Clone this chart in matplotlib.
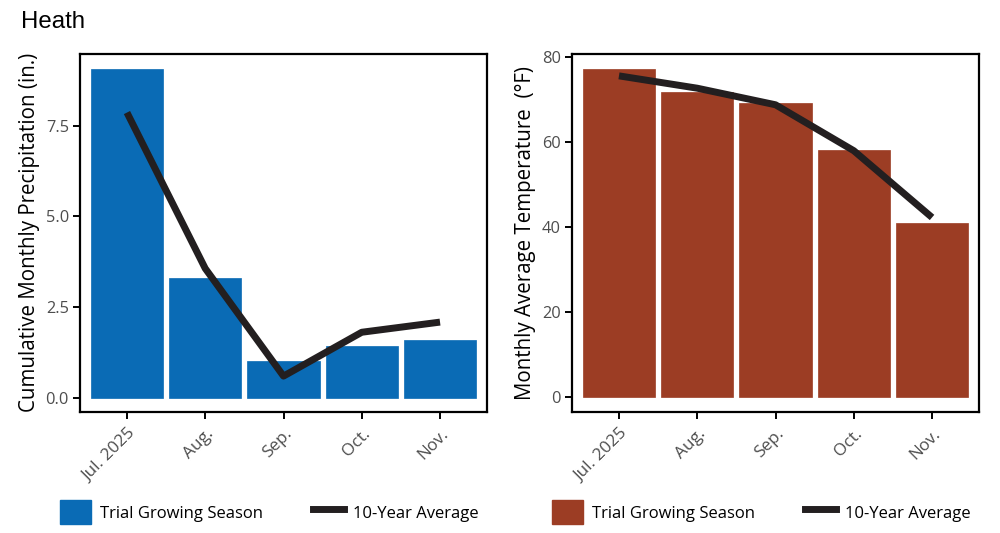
import numpy as np
import matplotlib
matplotlib.use("Agg")
import matplotlib.pyplot as plt
from matplotlib.patches import Patch
from matplotlib.lines import Line2D

plt.rcParams['font.family'] = ['Open Sans', 'DejaVu Sans']

# Datos
meses = ["Jul. 2025", "Aug.", "Sep.", "Oct.", "Nov."]
precip_trial = [9.07, 3.31, 1.00, 1.42, 1.59]
precip_avg = [7.86, 3.56, 0.59, 1.80, 2.08]
temp_trial = [77.2, 71.8, 69.2, 58.1, 41.1]
temp_avg = [75.6, 72.7, 68.8, 58.0, 42.3]

azul = "#0a6bb5"
cafe = "#9c3d24"
negro = "#231f20"
gris = "#4d4d4d"

fig = plt.figure(figsize=(10, 5.33), dpi=100)

ax1 = fig.add_axes([0.080, 0.227, 0.407, 0.672])
ax2 = fig.add_axes([0.572, 0.227, 0.407, 0.672])

x = np.arange(1, len(meses) + 1)


def panel(ax, barras, linea, color, ylabel, ylim, yticks, yfmt):
    ax.bar(x, barras, width=0.92, color=color, edgecolor=color, lw=0.5, zorder=2)
    ax.plot(x, linea, "-", color=negro, lw=5.0, zorder=3, solid_capstyle="butt")
    ax.set_xlim(0.4, 5.6)
    ax.set_ylim(*ylim)
    ax.set_xticks(x)
    ax.set_xticklabels(meses, rotation=45, ha="right", va="top",
                       rotation_mode="anchor", color=gris, fontsize=12.3)
    ax.set_yticks(yticks)
    ax.set_yticklabels([yfmt.format(v) for v in yticks], color=gris, fontsize=11.8)
    ax.tick_params(axis="both", direction="out", length=5, width=1.4, color="black")
    ax.tick_params(axis="x", pad=5)
    ax.tick_params(axis="y", pad=3)
    for s in ax.spines.values():
        s.set_linewidth(1.6)
        s.set_color("black")
    ax.set_ylabel(ylabel, fontsize=14.8, color="black", labelpad=4)
    handles = [Patch(facecolor=color, edgecolor=color),
               Line2D([0], [0], color=negro, lw=5.0)]
    ax.legend(handles, ["Trial Growing Season", "10-Year Average"], ncol=2,
              loc="center left", bbox_to_anchor=(-0.049, -0.28), frameon=False,
              fontsize=12, handlelength=1.85, handleheight=1.85, borderpad=0,
              columnspacing=3.0, handletextpad=0.55, borderaxespad=0)


panel(ax1, precip_trial, precip_avg, azul, "Cumulative Monthly Precipitation (in.)",
      (-0.40, 9.48), [0.0, 2.5, 5.0, 7.5], "{:.1f}")
panel(ax2, temp_trial, temp_avg, cafe, "Monthly Average Temperature  (\u00b0F)",
      (-3.45, 80.78), [0, 20, 40, 60, 80], "{:.0f}")

fig.text(0.021, 0.947, "Heath", fontsize=17.3, family="Liberation Sans",
         ha="left", va="baseline")

fig.savefig("out.png", dpi=100)
